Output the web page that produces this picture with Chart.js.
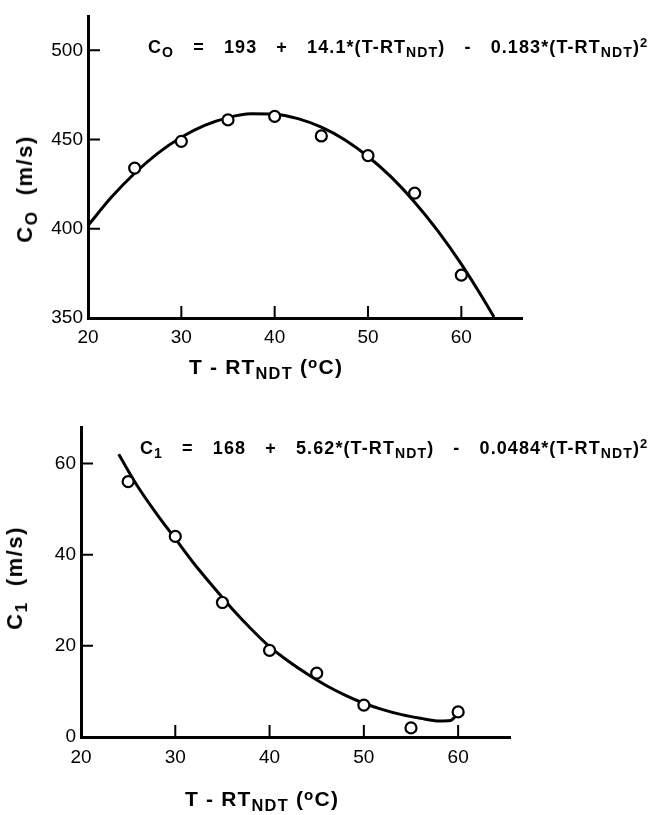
<!DOCTYPE html>
<html>
<head>
<meta charset="utf-8">
<script src="https://cdn.jsdelivr.net/npm/chart.js@4.4.1/dist/chart.umd.min.js"></script>
<style>
  body { margin: 0; background: #fff; }
  #wrap { position: relative; width: 664px; height: 815px; overflow: hidden; }
  canvas { position: absolute; left: 0; }
  #topChart { top: 0; }
  #botChart { top: 400px; }
  .lbl {
    position: absolute;
    font-family: 'Liberation Sans', Arial, sans-serif;
    font-weight: bold;
    color: #000;
    white-space: nowrap;
    line-height: 1;
  }
  .lbl sub { font-size: 78%; vertical-align: -0.28em; }
  .lbl sup { font-size: 72%; vertical-align: 0.45em; }
  .eq { font-size: 18px; letter-spacing: 1.1px; word-spacing: 13px; }
  .xt { font-size: 21px; letter-spacing: 1.2px; transform: translate(-50%, -50%); }
  .yt { font-size: 22px; letter-spacing: 1.5px; transform: translate(-50%, -50%) rotate(-90deg); }
</style>
</head>
<body>
<div id="wrap">
  <canvas id="topChart" width="664" height="390"></canvas>
  <canvas id="botChart" width="664" height="415"></canvas>

  <div class="lbl eq" style="left:148px; top:37px;">C<sub>O</sub> = 193 + 14.1*(T-RT<sub>NDT</sub>) - 0.183*(T-RT<sub>NDT</sub>)<sup>2</sup></div>
  <div class="lbl yt" style="left:27px; top:189px;">C<sub>O</sub>&nbsp; (m/s)</div>
  <div class="lbl xt" style="left:266px; top:368px;">T - RT<sub>NDT</sub> (<sup>o</sup>C)</div>

  <div class="lbl eq" style="left:140px; top:438px;">C<sub>1</sub> = 168 + 5.62*(T-RT<sub>NDT</sub>) - 0.0484*(T-RT<sub>NDT</sub>)<sup>2</sup></div>
  <div class="lbl yt" style="left:17px; top:578px;">C<sub>1</sub>&nbsp; (m/s)</div>
  <div class="lbl xt" style="left:262px; top:800px;">T - RT<sub>NDT</sub> (<sup>o</sup>C)</div>
</div>

<script>
// measured points, both panels share the same temperatures
var tempPts = [25, 30, 35, 40, 45, 50, 55, 60];
var c0Pts = [434, 449, 461, 463, 452, 441, 420, 374];
var c1Pts = [56, 44, 29.5, 19, 14, 7, 2, 5.5];

// fitted curves
var c0FitT = [20, 22.5, 25, 27.5, 30, 32.5, 35, 37.5, 40, 42.5, 45, 47.5, 50, 52.5, 55, 57.5, 60, 62.5, 63.5];
var c0Fit = [401.8, 417.6, 431.1, 442.4, 451.3, 457.9, 462.3, 464.4, 464.2, 461.7, 456.9, 449.9, 440.5, 428.9, 414.9, 398.7, 380.2, 359.4, 350.5];
var c1FitT = [24, 26, 28, 30, 32, 34, 36, 38, 40, 42, 44, 46, 48, 50, 52, 54, 56, 58, 59.2, 59.8];
var c1Fit = [62, 55, 49, 43.5, 38, 33, 28.2, 23.8, 19.8, 16.6, 13.8, 11.3, 9.2, 7.4, 6, 4.9, 4.1, 3.5, 3.6, 4.7];

var tTicks = [20, 30, 40, 50, 60];
var c0Ticks = [350, 400, 450, 500];
var c1Ticks = [0, 20, 40, 60];

function pairs(xs, ys) {
  return xs.map(function(x, i) { return {x: x, y: ys[i]}; });
}

// short tick marks pointing into the plot
var inwardTicks = {
  id: 'inwardTicks',
  afterDatasetsDraw: function(chart) {
    var ctx = chart.ctx, area = chart.chartArea;
    var xs = chart.scales.x, ys = chart.scales.y;
    ctx.save();
    ctx.strokeStyle = '#000';
    ctx.lineWidth = 2;
    ctx.beginPath();
    xs.ticks.forEach(function(t) {
      if (t.value === xs.min) return;
      var px = xs.getPixelForValue(t.value);
      ctx.moveTo(px, area.bottom);
      ctx.lineTo(px, area.bottom - 12);
    });
    ys.ticks.forEach(function(t) {
      if (t.value === ys.min) return;
      var py = ys.getPixelForValue(t.value);
      ctx.moveTo(area.left, py);
      ctx.lineTo(area.left + 12, py);
    });
    ctx.stroke();
    ctx.restore();
  }
};

var tickFont = { family: "'Liberation Sans', Arial, sans-serif", size: 19 };

function makeChart(id, o) {
  return new Chart(document.getElementById(id), {
    type: 'scatter',
    data: {
      datasets: [
        {
          data: pairs(tempPts, o.pts),
          showLine: false,
          pointRadius: 5.5,
          pointBorderWidth: 2.2,
          pointBackgroundColor: '#fff',
          pointBorderColor: '#000'
        },
        {
          data: pairs(o.fitT, o.fit),
          showLine: true,
          borderColor: '#000',
          borderWidth: 3,
          pointRadius: 0,
          tension: 0.4,
          cubicInterpolationMode: 'monotone'
        }
      ]
    },
    options: {
      responsive: false,
      animation: false,
      layout: { padding: o.pad },
      plugins: { legend: { display: false }, tooltip: { enabled: false } },
      scales: {
        x: {
          type: 'linear',
          min: 20,
          max: o.xMax,
          afterBuildTicks: function(s) { s.ticks = tTicks.map(function(v) { return {value: v}; }); },
          afterFit: function(s) { s.height = o.xH; },
          grid: { display: false, drawTicks: false },
          border: { display: true, color: '#000', width: 3 },
          ticks: { color: '#000', font: tickFont, padding: o.xPad, maxRotation: 0 }
        },
        y: {
          type: 'linear',
          min: o.yMin,
          max: o.yMax,
          afterBuildTicks: function(s) { s.ticks = o.yTicks.map(function(v) { return {value: v}; }); },
          afterFit: function(s) { s.width = o.yW; },
          grid: { display: false, drawTicks: false },
          border: { display: true, color: '#000', width: 3 },
          ticks: { color: '#000', font: tickFont, padding: 5 }
        }
      }
    },
    plugins: [inwardTicks]
  });
}

makeChart('topChart', {
  pts: c0Pts, fitT: c0FitT, fit: c0Fit,
  yMin: 350, yMax: 519, yTicks: c0Ticks, xMax: 66.5,
  pad: { left: 0, top: 8, right: 142, bottom: 0 },
  yW: 88, xH: 72, xPad: 8
});

makeChart('botChart', {
  pts: c1Pts, fitT: c1FitT, fit: c1Fit,
  yMin: 0, yMax: 68, yTicks: c1Ticks, xMax: 65.5,
  pad: { left: 0, top: 27, right: 154, bottom: 0 },
  yW: 81, xH: 78, xPad: 9
});
</script>
</body>
</html>
